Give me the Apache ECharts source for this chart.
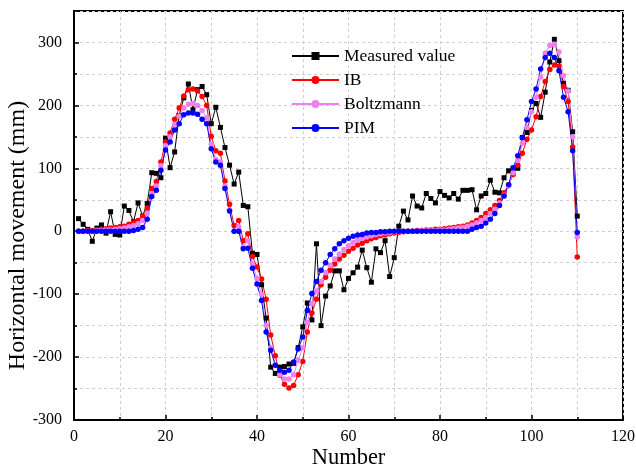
<!DOCTYPE html>
<html><head><meta charset="utf-8">
<script src="https://cdn.jsdelivr.net/npm/echarts@6/dist/echarts.min.js"></script>
<style>html,body{margin:0;padding:0;background:#fff}#c{width:636px;height:466px}</style>
</head><body><div id="c"></div>
<script>
// Point numbers start at 1 and go up by one
const firstNumber = 1;

const measured = [
  20, 11, 3, -16, 5, 10, -3, 31, -5, -6,
  40, 33, 15, 45, 24, 44, 93, 92, 85, 148,
  101, 126, 184, 212, 234, 193, 225, 230, 217, 171,
  197, 165, 133, 105, 75, 94, 41, 39, -35, -37,
  -85, -138, -216, -226, -216, -215, -211, -210, -185, -152,
  -114, -141, -20, -150, -103, -87, -63, -63, -93, -75,
  -66, -57, -30, -58, -81, -28, -34, -15, -72, -42,
  8, 32, 18, 56, 40, 37, 60, 52, 45, 63,
  57, 53, 60, 51, 65, 65, 66, 34, 56, 60,
  81, 62, 61, 85, 96, 100, 100, 149, 157, 192,
  203, 181, 221, 269, 305, 271, 235, 224, 158, 24
];
const ib = [
  0, 0, 1, 1, 2, 3, 4, 5, 6, 7,
  8, 11, 14, 17, 24, 37, 68, 79, 110, 142,
  156, 178, 196, 215, 225, 226, 223, 214, 200, 151,
  128, 124, 80, 43, 9, 17, -15, -4, -40, -57,
  -76, -108, -165, -198, -229, -243, -249, -245, -228, -207,
  -160, -130, -108, -85, -73, -62, -52, -44, -38, -32,
  -27, -22, -19, -15, -12, -10, -7, -6, -4, -3,
  -2, -1, 0, 0, 1, 1, 2, 2, 3, 3,
  4, 5, 6, 7, 8, 10, 13, 17, 22, 28,
  34, 41, 49, 61, 74, 90, 105, 124, 146, 161,
  182, 214, 238, 257, 264, 262, 230, 206, 134, -41
];
const boltzmann = [
  0, 0, 0, 0, 1, 1, 2, 2, 3, 4,
  5, 7, 9, 12, 17, 28, 60, 72, 104, 136,
  150, 170, 183, 196, 202, 203, 200, 192, 180, 138,
  114, 110, 72, 34, 0, 7, -25, -15, -52, -75,
  -100, -150, -185, -212, -228, -235, -235, -228, -205, -185,
  -145, -115, -95, -80, -66, -54, -44, -36, -29, -23,
  -18, -14, -11, -9, -7, -5, -4, -3, -2, -1,
  -1, 0, 0, 0, 0, 1, 1, 1, 1, 2,
  2, 3, 4, 5, 6, 8, 10, 13, 17, 22,
  28, 35, 45, 57, 72, 93, 113, 140, 165, 190,
  213, 245, 283, 295, 297, 285, 247, 223, 150, -9
];
const pim = [
  0, 0, 0, 0, 0, 0, 0, 0, 0, 0,
  0, 0, 1, 3, 6, 19, 55, 65, 97, 129,
  142, 161, 171, 185, 188, 188, 186, 178, 171, 131,
  110, 105, 68, 32, 0, 0, -28, -27, -59, -84,
  -110, -160, -189, -213, -221, -224, -221, -208, -187, -168,
  -126, -99, -80, -62, -50, -37, -28, -20, -15, -11,
  -8, -6, -5, -3, -2, -2, -1, -1, 0, 0,
  0, 0, 0, 0, 0, 0, 0, 0, 0, 0,
  0, 0, 0, 0, 0, 0, 3, 6, 8, 13,
  19, 28, 41, 56, 74, 101, 120, 149, 177, 206,
  226, 258, 276, 283, 276, 255, 213, 190, 128, -2
];
const seriesNames = ['Measured value', 'IB', 'Boltzmann', 'PIM'];
const xTickLabels = [0, 20, 40, 60, 80, 100, 120];
const yTickLabels = [-300, -200, -100, 0, 100, 200, 300];

const numbers = measured.map((_, i) => firstNumber + i);
const pair = arr => arr.map((v, i) => [numbers[i], v]);

const font = 'Liberation Serif, Times New Roman, serif';
const axisLineStyle = { show: true, onZero: false, lineStyle: { color: '#000', width: 2 } };
const gridLine = { show: true, lineStyle: { color: '#cfcfcf', width: 1, type: [3, 3] } };

const chart = echarts.init(document.getElementById('c'), null, { renderer: 'canvas' });
chart.setOption({
  animation: false,
  backgroundColor: '#fff',
  grid: { left: 74, right: 13, top: 11, bottom: 46, show: true, borderColor: '#000', borderWidth: 2,
          containLabel: false, outerBoundsMode: 'none' },
  legend: {
    orient: 'vertical', left: 286, top: 42, padding: 5,
    itemWidth: 47, itemHeight: 10, itemGap: 6,
    textStyle: { fontFamily: font, fontSize: 17.5, color: '#000' },
    data: seriesNames
  },
  xAxis: [
    {
      type: 'value', min: 0, max: 120, interval: 10,
      axisLine: axisLineStyle,
      axisTick: { show: true, inside: true, length: 3, lineStyle: { color: '#000', width: 1.5 } },
      axisLabel: { show: false },
      splitLine: gridLine
    },
    {
      type: 'value', min: 0, max: 120, interval: 20, position: 'bottom',
      axisLine: axisLineStyle,
      axisTick: { show: true, inside: true, length: 5, lineStyle: { color: '#000', width: 1.5 } },
      axisLabel: {
        show: true, margin: 9, fontFamily: font, fontSize: 16, color: '#000',
        formatter: v => (xTickLabels.indexOf(v) >= 0 ? String(v) : '')
      },
      splitLine: { show: false },
      name: 'Number', nameLocation: 'middle', nameGap: 27, nameMoveOverlap: false,
      nameTextStyle: { fontFamily: font, fontSize: 22.5, color: '#000' }
    }
  ],
  yAxis: [
    {
      type: 'value', min: -300, max: 350, interval: 50,
      axisLine: axisLineStyle,
      axisTick: { show: true, inside: true, length: 3, lineStyle: { color: '#000', width: 1.5 } },
      axisLabel: { show: false },
      splitLine: gridLine
    },
    {
      type: 'value', min: -300, max: 350, interval: 100, position: 'left',
      axisLine: axisLineStyle,
      axisTick: { show: true, inside: true, length: 5, lineStyle: { color: '#000', width: 1.5 } },
      axisLabel: {
        show: true, margin: 12, fontFamily: font, fontSize: 16, color: '#000',
        showMaxLabel: false,
        formatter: v => (yTickLabels.indexOf(v) >= 0 ? String(v) : '')
      },
      splitLine: { show: false },
      name: 'Horizontal movement (mm)', nameLocation: 'middle', nameGap: 44, nameMoveOverlap: false,
      nameTextStyle: { fontFamily: font, fontSize: 24, color: '#000', padding: [0, 40, 0, 0] }
    }
  ],
  series: [
    { name: seriesNames[0], type: 'line', data: pair(measured), symbol: 'rect', symbolSize: 5,
      lineStyle: { color: '#000', width: 1 }, itemStyle: { color: '#000' } },
    { name: seriesNames[1], type: 'line', data: pair(ib), symbol: 'circle', symbolSize: 5.5,
      lineStyle: { color: '#ff0000', width: 1 }, itemStyle: { color: '#ff0000' } },
    { name: seriesNames[2], type: 'line', data: pair(boltzmann), symbol: 'circle', symbolSize: 5.5,
      lineStyle: { color: '#f080f0', width: 1 }, itemStyle: { color: '#f080f0' } },
    { name: seriesNames[3], type: 'line', data: pair(pim), symbol: 'circle', symbolSize: 5.5,
      lineStyle: { color: '#0000ff', width: 1 }, itemStyle: { color: '#0000ff' } }
  ]
});
</script></body></html>
